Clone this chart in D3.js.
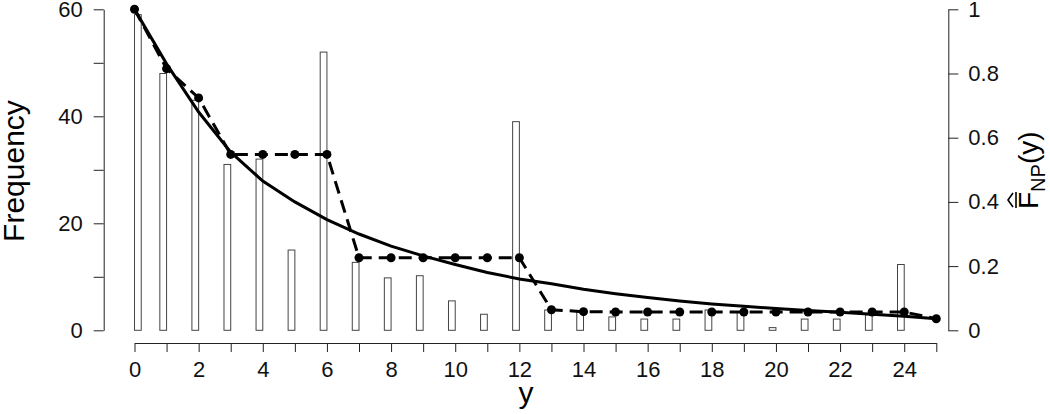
<!DOCTYPE html>
<html>
<head>
<meta charset="utf-8">
<script src="https://cdn.jsdelivr.net/npm/d3@7"></script>
<style>
  body { margin: 0; background: #fff; }
  svg { display: block; font-family: "Liberation Sans", Arial, Helvetica, sans-serif; }
  .axis path, .axis line { stroke: #222; stroke-width: 1; }
  .axis text { fill: #111; font-size: 22px; font-family: "Liberation Sans", Arial, sans-serif; }
</style>
</head>
<body>
<div id="chart"></div>
<script>
// y values (counts observed) and bar heights
const yValues = [0, 1, 2, 3, 4, 5, 6, 7, 8, 9, 10, 11, 12, 13, 14, 15, 16, 17, 18, 19, 20, 21, 22, 23, 24, 25];
const frequency = [59, 48, 43, 31, 32, 15, 52, 12.7, 9.8, 10.2, 5.5, 3, 39, 3.8, 3.4, 2.5, 2.1, 2.1, 3.8, 3.5, 0.5, 2.1, 2.1, 2.9, 12.3];
// nonparametric estimate (dashed, with points)
const fNP = [1, 0.815, 0.724, 0.548, 0.548, 0.548, 0.548, 0.226, 0.226, 0.226, 0.226, 0.226, 0.226, 0.064, 0.058, 0.057, 0.057, 0.057, 0.057, 0.057, 0.057, 0.057, 0.057, 0.057, 0.057, 0.036];
// fitted curve (solid)
const fFit = [1, 0.83, 0.68, 0.555, 0.465, 0.4, 0.345, 0.3, 0.262, 0.232, 0.205, 0.18, 0.16, 0.145, 0.128, 0.114, 0.102, 0.091, 0.082, 0.075, 0.068, 0.062, 0.056, 0.05, 0.044, 0.036];
const leftTicks = [0, 10, 20, 30, 40, 50, 60];
const rightTicks = [0, 0.2, 0.4, 0.6, 0.8, 1];

const width = 1050, height = 414;
const svg = d3.select("#chart").append("svg").attr("width", width).attr("height", height);

const x = d3.scaleLinear().domain([0, 25]).range([134.5, 936.3]);
const yLeft = d3.scaleLinear().domain([0, 60]).range([330.3, 9.3]);
const yRight = d3.scaleLinear().domain([0, 1]).range([330.3, 9.3]);
const barWidth = 0.21;

// bars
svg.append("g").selectAll("rect").data(frequency).join("rect")
  .attr("x", (d, i) => x(Math.max(0, yValues[i] - barWidth)))
  .attr("y", (d) => yLeft(d))
  .attr("width", x(barWidth) - x(0))
  .attr("height", (d) => yLeft(0) - yLeft(d))
  .attr("fill", "#fff").attr("stroke", "#444").attr("stroke-width", 1);

// fitted curve
const fitLine = d3.line().x((d, i) => x(yValues[i])).y((d) => yRight(d));
svg.append("path").attr("d", fitLine(fFit))
  .attr("fill", "none").attr("stroke", "#000").attr("stroke-width", 3);

// nonparametric estimate
svg.append("path").attr("d", fitLine(fNP))
  .attr("fill", "none").attr("stroke", "#000").attr("stroke-width", 3)
  .attr("stroke-dasharray", "13,7");
svg.append("g").selectAll("circle").data(fNP).join("circle")
  .attr("cx", (d, i) => x(yValues[i])).attr("cy", (d) => yRight(d)).attr("r", 4.5).attr("fill", "#000");

// axes
svg.append("g").attr("class", "axis").attr("transform", "translate(103.7,0)")
  .call(d3.axisLeft(yLeft).tickValues(leftTicks).tickSize(10).tickSizeOuter(0).tickPadding(11)
    .tickFormat((d) => d % 20 === 0 ? d : ""));

svg.append("g").attr("class", "axis").attr("transform", "translate(948.3,0)")
  .call(d3.axisRight(yRight).tickValues(rightTicks).tickSize(10).tickSizeOuter(0).tickPadding(10)
    .tickFormat((d) => d3.format("~g")(d)));

svg.append("g").attr("class", "axis").attr("transform", "translate(0,343)")
  .call(d3.axisBottom(x).tickValues(yValues).tickSize(9).tickSizeOuter(0).tickPadding(9)
    .tickFormat((d) => d % 2 === 0 ? d : ""));

// axis titles
svg.append("text").attr("transform", "translate(24,171) rotate(-90)")
  .attr("text-anchor", "middle").attr("font-size", 30).text("Frequency");
svg.append("text").attr("x", 526).attr("y", 403)
  .attr("text-anchor", "middle").attr("font-size", 30).text("y");

const rlab = svg.append("g").attr("transform", "translate(1038,209) rotate(-90)");
rlab.append("text").attr("x", 0).attr("y", 0).attr("font-size", 28)
  .text("F")
  .append("tspan").attr("font-size", 20).attr("dy", 7).text("NP")
  .clone(true).attr("font-size", 28).attr("dy", -7).text("(y)");
rlab.append("line").attr("x1", 1).attr("x2", 17).attr("y1", -22).attr("y2", -22)
  .attr("stroke", "#000").attr("stroke-width", 1.6);
rlab.append("path").attr("d", "M2,-25 L9,-30 L16,-25")
  .attr("fill", "none").attr("stroke", "#000").attr("stroke-width", 1.6);
</script>
</body>
</html>
